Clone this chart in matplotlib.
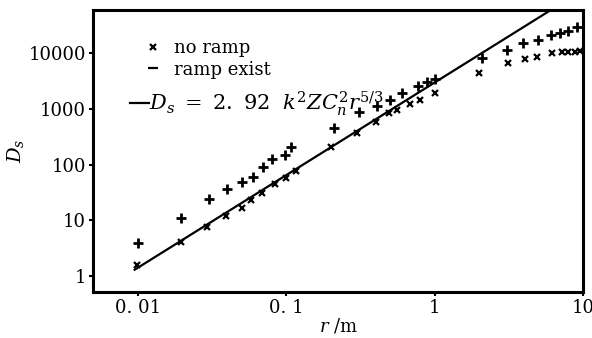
import numpy as np
import matplotlib
matplotlib.use('Agg')
import matplotlib.pyplot as plt
from matplotlib.lines import Line2D

plt.rcParams['font.family'] = ['DejaVu Serif']
plt.rcParams['mathtext.fontset'] = 'dejavuserif'

# lower series (x markers), follows the fitted line
r_no_ramp = [0.0098, 0.0195, 0.029, 0.039, 0.05, 0.058, 0.069, 0.084, 0.1, 0.117,
             0.2, 0.3, 0.4, 0.49, 0.56, 0.68, 0.8, 1.0,
             2.0, 3.1, 4.05, 4.9, 6.2, 7.2, 7.9, 8.8, 9.6]
D_no_ramp = [1.6, 4.1, 7.6, 12, 17, 23, 31, 45, 57, 77,
             208, 370, 580, 850, 955, 1230, 1440, 1930,
             4400, 6700, 7900, 8600, 10000, 10500, 10500, 10500, 11000]

# upper series (+ markers)
r_ramp = [0.01, 0.0195, 0.03, 0.04, 0.05, 0.06, 0.07, 0.08, 0.098, 0.108,
          0.21, 0.31, 0.41, 0.5, 0.6, 0.77, 0.88, 1.0,
          2.08, 3.06, 3.95, 4.97, 6.08, 7.0, 7.9, 9.1]
D_ramp = [3.9, 11, 24, 36, 49, 60, 91, 126, 148, 208,
          460, 870, 1130, 1480, 1930, 2600, 3050, 3500,
          8200, 11400, 15200, 17300, 21300, 23000, 25000, 29600]

# fitted line D_s = 2.92 k^2 Z Cn^2 r^(5/3), end points
line_r = [0.0095, 10]
line_D = [1.3, 138000]

xticks = [0.01, 0.1, 1, 10]
xtick_labels = ['0. 01', '0. 1', '1', '10']
yticks = [1, 10, 100, 1000, 10000]
ytick_labels = ['1', '10', '100', '1000', '10000']

fig = plt.figure(figsize=(5.92, 3.38), dpi=100)
ax = fig.add_axes([0.157, 0.136, 0.828, 0.834])

ax.plot(line_r, line_D, color='k', lw=1.6, zorder=2)
ax.plot(r_no_ramp, D_no_ramp, 'x', color='k', ms=5, mew=1.6, zorder=3)
ax.plot(r_ramp, D_ramp, '+', color='k', ms=6.5, mew=2.0, zorder=3)

ax.set_xscale('log')
ax.set_yscale('log')
ax.set_xlim(0.00497, 10)
ax.set_ylim(0.516, 59700)
ax.set_xticks(xticks)
ax.set_xticklabels(xtick_labels)
ax.set_yticks(yticks)
ax.set_yticklabels(ytick_labels)
ax.minorticks_off()
ax.tick_params(direction='out', length=3, width=1.5, labelsize=13, pad=2)

for s in ax.spines.values():
    s.set_linewidth(2.2)

ax.set_xlabel(r'$r$ /m', fontsize=13, labelpad=0)
ax.set_ylabel(r'$D_s$', fontsize=14, labelpad=2)

h1 = [Line2D([], [], ls='none', marker='x', color='k', ms=5, mew=1.6),
      Line2D([], [], ls='none', marker='_', color='k', ms=7, mew=1.6)]
leg1 = ax.legend(h1, ['no ramp', 'ramp exist'], loc='upper left', frameon=False,
                 fontsize=13, handlelength=1.0, handletextpad=0.7, labelspacing=0.2,
                 bbox_to_anchor=(0.085, 0.93), borderpad=0)
ax.add_artist(leg1)
h2 = [Line2D([], [], color='k', lw=1.6)]
ax.legend(h2, [r'$D_s\ =\ 2.\ 92\ \ k^2ZC_n^2r^{5/3}$'], loc='upper left', frameon=False,
          fontsize=15, handlelength=0.9, handletextpad=0.0,
          bbox_to_anchor=(0.055, 0.755), borderpad=0)

fig.savefig('out.png', dpi=100)
